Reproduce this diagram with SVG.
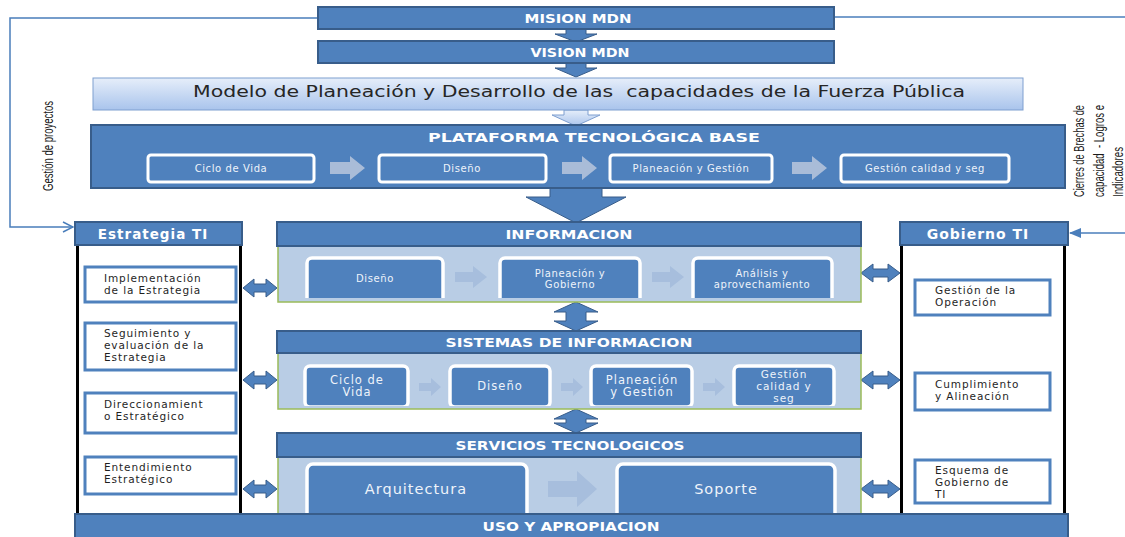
<svg xmlns="http://www.w3.org/2000/svg" width="1125" height="537" viewBox="0 0 1125 537">
<defs>
<style>
.hdr{fill:#4F81BD;stroke:#385D8A;stroke-width:2}
.ht{font-family:"DejaVu Sans",Verdana,sans-serif;font-weight:bold;fill:#fff;text-anchor:middle;font-size:12px}
.body{fill:#B9CDE5;stroke:#9BBB59;stroke-width:1.5}
.ib{fill:#4F81BD;stroke:#fff;stroke-width:3.5}
.pb{fill:#4F81BD;stroke:#fff;stroke-width:3}
.it{font-family:"DejaVu Sans",Verdana,sans-serif;fill:#EEF3FA;text-anchor:middle;font-size:10px;letter-spacing:0.6px}
.it2{font-size:11.5px;letter-spacing:1px}
.it4{font-size:10.5px;letter-spacing:0.9px}
.it3{font-size:14.5px;letter-spacing:1px}
.sb{fill:#fff;stroke:#4F81BD;stroke-width:3}
.st{font-family:"DejaVu Sans",Verdana,sans-serif;fill:#1F1F1F;font-size:10.5px;letter-spacing:0.9px}
.col{fill:#fff;stroke:none}
.edge{stroke:#000;stroke-width:3}
.arr{fill:#4F81BD;stroke:#385D8A;stroke-width:1}
.farr{fill:#A9BCD8;stroke:none}
.iarr{fill:#A7BEDD;stroke:none}
.line{fill:none;stroke:#4A7EBB;stroke-width:1.5}
.rot{font-family:"Liberation Sans Narrow","Liberation Sans",Arial,sans-serif;font-size:14px;fill:#1a1a1a}
</style>
<linearGradient id="gModel" x1="0" y1="0" x2="0" y2="1">
<stop offset="0" stop-color="#E6EEFA"/>
<stop offset="1" stop-color="#A9C4EC"/>
</linearGradient>
<marker id="mOpen" viewBox="0 0 12 12" refX="11" refY="6" markerWidth="12" markerHeight="12" markerUnits="userSpaceOnUse" orient="auto">
<path d="M1,1 L11,6 L1,11" fill="none" stroke="#4A7EBB" stroke-width="1.5"/>
</marker>
<marker id="mFill" viewBox="0 0 12 10" refX="11" refY="5" markerWidth="12" markerHeight="10" markerUnits="userSpaceOnUse" orient="auto">
<path d="M0,0 L12,5 L0,10 Z" fill="#4A7EBB"/>
</marker>
<clipPath id="cInfo"><rect x="278" y="246" width="583" height="52"/></clipPath>
<clipPath id="cSis"><rect x="278" y="354" width="583" height="52"/></clipPath>
<clipPath id="cServ"><rect x="278" y="458" width="583" height="55"/></clipPath>
</defs>

<rect width="1125" height="537" fill="#fff"/>

<g id="connectors">
<path class="line" d="M318,18 H10 V227 H73" marker-end="url(#mOpen)"/>
<path class="line" d="M834,17 H1127"/>
<path class="line" d="M1127,233 H1070" marker-end="url(#mFill)"/>
<path class="arr" d="M566,29 H586 V34 H597 L576,42 L555,34 H566 Z"/>
<path class="arr" d="M566,63 H586 V68 H597 L576,77 L555,68 H566 Z"/>
<path d="M564,110 H588 V115 H600 L576,126 L552,115 H564 Z" fill="url(#gModel)" stroke="#7E9FD0" stroke-width="1"/>
<path class="arr" d="M550,188 H602 V197 H626 L576,223 L526,197 H550 Z"/>
<path class="arr" d="M576,302 L598,312 L586,312 L586,321 L598,321 L576,331 L554,321 L566,321 L566,312 L554,312 Z"/>
<path class="arr" d="M576,409 L598,419 L586,419 L586,423 L598,423 L576,433 L554,423 L566,423 L566,419 L554,419 Z"/>
<path class="arr" d="M243,288 L254,279 V284 H266 V279 L277,288 L266,297 V292 H254 V297 Z"/>
<path class="arr" d="M243,380 L254,371 V376 H266 V371 L277,380 L266,389 V384 H254 V389 Z"/>
<path class="arr" d="M243,489 L254,480 V485 H266 V480 L277,489 L266,498 V493 H254 V498 Z"/>
<path class="arr" d="M861,273 L873,264 V269 H888 V264 L900,273 L888,282 V277 H873 V282 Z"/>
<path class="arr" d="M861,380 L873,371 V376 H888 V371 L900,380 L888,389 V384 H873 V389 Z"/>
<path class="arr" d="M861,489 L873,480 V485 H888 V480 L900,489 L888,498 V493 H873 V498 Z"/>
</g>

<g id="mision">
<rect class="hdr" x="318" y="7" width="516" height="22"/>
<text class="ht" x="578" y="22.5" font-size="13" textLength="107" lengthAdjust="spacingAndGlyphs">MISION MDN</text>
</g>
<g id="vision">
<rect class="hdr" x="318" y="41" width="516" height="22"/>
<text class="ht" x="580" y="56.5" font-size="13" textLength="99" lengthAdjust="spacingAndGlyphs">VISION MDN</text>
</g>
<g id="modelo">
<rect x="93" y="78" width="930" height="32" fill="url(#gModel)" stroke="#7E9FD0" stroke-width="1"/>
<text x="579" y="97" xml:space="preserve" font-family="'DejaVu Sans',Verdana,sans-serif" font-size="15.5" fill="#262626" text-anchor="middle" textLength="772" lengthAdjust="spacingAndGlyphs">Modelo de Planeación y Desarrollo de las  capacidades de la Fuerza Pública</text>
</g>

<g id="plataforma">
<rect class="hdr" x="91" y="125" width="974" height="63"/>
<text class="ht" x="594" y="141.5" font-size="12.5" textLength="332" lengthAdjust="spacingAndGlyphs">PLATAFORMA TECNOLÓGICA BASE</text>
<rect class="pb" x="148" y="155" width="166" height="27" rx="3"/>
<rect class="pb" x="379" y="155" width="167" height="27" rx="3"/>
<rect class="pb" x="610" y="155" width="162" height="27" rx="3"/>
<rect class="pb" x="841" y="155" width="168" height="27" rx="3"/>
<path class="farr" d="M330,162 H350 V156 L365,168 L350,180 V174 H330 Z"/>
<path class="farr" d="M562,162 H582 V156 L597,168 L582,180 V174 H562 Z"/>
<path class="farr" d="M792,162 H812 V156 L827,168 L812,180 V174 H792 Z"/>
<text class="it" x="231" y="171.5">Ciclo de Vida</text>
<text class="it" x="462" y="171.5">Diseño</text>
<text class="it" x="691" y="171.5">Planeación y Gestión</text>
<text class="it" x="925" y="171.5">Gestión calidad y seg</text>
</g>

<g id="estrategia">
<rect class="col" x="76" y="245" width="165" height="268"/>
<line class="edge" x1="77.5" y1="245" x2="77.5" y2="513"/>
<line class="edge" x1="240.5" y1="245" x2="240.5" y2="513"/>
<rect class="hdr" x="75" y="222" width="167" height="23"/>
<text class="ht" x="153" y="238.5" style="font-size:13.5px;letter-spacing:1px">Estrategia TI</text>
<rect class="sb" x="85" y="267" width="151" height="35"/>
<text class="st" x="104" y="282">Implementación</text>
<text class="st" x="104" y="294">de la Estrategia</text>
<rect class="sb" x="85" y="323" width="151" height="47"/>
<text class="st" x="104" y="337">Seguimiento y</text>
<text class="st" x="104" y="349">evaluación de la</text>
<text class="st" x="104" y="361">Estrategia</text>
<rect class="sb" x="85" y="393" width="151" height="40"/>
<text class="st" x="104" y="408">Direccionamient</text>
<text class="st" x="104" y="420">o Estratégico</text>
<rect class="sb" x="85" y="457" width="151" height="37"/>
<text class="st" x="104" y="471">Entendimiento</text>
<text class="st" x="104" y="483">Estratégico</text>
</g>

<g id="gobierno">
<rect class="col" x="900" y="245" width="166" height="268"/>
<line class="edge" x1="901.5" y1="245" x2="901.5" y2="513"/>
<line class="edge" x1="1064.5" y1="245" x2="1064.5" y2="513"/>
<rect class="hdr" x="900" y="222" width="168" height="23"/>
<text class="ht" x="978" y="238.5" style="font-size:14px;letter-spacing:1px">Gobierno TI</text>
<rect class="sb" x="915" y="280" width="135" height="35"/>
<text class="st" x="935" y="294">Gestión de la</text>
<text class="st" x="935" y="306">Operación</text>
<rect class="sb" x="915" y="373" width="135" height="37"/>
<text class="st" x="935" y="388">Cumplimiento</text>
<text class="st" x="935" y="400">y Alineación</text>
<rect class="sb" x="915" y="460" width="135" height="43"/>
<text class="st" x="935" y="474">Esquema de</text>
<text class="st" x="935" y="486">Gobierno de</text>
<text class="st" x="935" y="498">TI</text>
</g>

<g id="informacion">
<rect class="body" x="278" y="246" width="583" height="56"/>
<rect class="hdr" x="277" y="222" width="584" height="24"/>
<text class="ht" x="569" y="238.5" textLength="127" lengthAdjust="spacingAndGlyphs">INFORMACION</text>
<g clip-path="url(#cInfo)">
<rect class="ib" x="307" y="258" width="136" height="50" rx="5"/>
<rect class="ib" x="500" y="258" width="140" height="50" rx="5"/>
<rect class="ib" x="693" y="258" width="139" height="50" rx="5"/>
</g>
<path class="iarr" d="M455,272 H473 V266 L487,277 L473,288 V282 H455 Z"/>
<path class="iarr" d="M652,272 H670 V266 L684,277 L670,288 V282 H652 Z"/>
<text class="it" x="375" y="281.5">Diseño</text>
<text class="it" x="570" y="276.5">Planeación y</text>
<text class="it" x="570" y="287.5">Gobierno</text>
<text class="it" x="762" y="276.5">Análisis y</text>
<text class="it" x="762" y="287.5">aprovechamiento</text>
</g>

<g id="sistemas">
<rect class="body" x="278" y="353" width="583" height="56"/>
<rect class="hdr" x="277" y="331" width="584" height="22"/>
<text class="ht" x="569" y="346.5" textLength="247" lengthAdjust="spacingAndGlyphs">SISTEMAS DE INFORMACION</text>
<g clip-path="url(#cSis)">
<rect class="ib" x="305" y="366" width="103" height="41" rx="5"/>
<rect class="ib" x="450" y="366" width="100" height="41" rx="5"/>
<rect class="ib" x="591" y="366" width="101" height="41" rx="5"/>
<rect class="ib" x="734" y="366" width="100" height="41" rx="5"/>
</g>
<path class="iarr" d="M419,383 H431 V378 L441,387 L431,396 V391 H419 Z"/>
<path class="iarr" d="M561,383 H573 V378 L583,387 L573,396 V391 H561 Z"/>
<path class="iarr" d="M703,383 H715 V378 L725,387 L715,396 V391 H703 Z"/>
<text class="it it2" x="357" y="384">Ciclo de</text>
<text class="it it2" x="357" y="396">Vida</text>
<text class="it it2" x="500" y="390">Diseño</text>
<text class="it it2" x="642" y="384">Planeación</text>
<text class="it it2" x="642" y="396">y Gestión</text>
<text class="it it4" x="784" y="378">Gestión</text>
<text class="it it4" x="784" y="390">calidad y</text>
<text class="it it4" x="784" y="402">seg</text>
</g>

<g id="servicios">
<rect class="body" x="278" y="457" width="583" height="58"/>
<rect class="hdr" x="277" y="433" width="584" height="24"/>
<text class="ht" x="570" y="449.5" textLength="229" lengthAdjust="spacingAndGlyphs">SERVICIOS TECNOLOGICOS</text>
<g clip-path="url(#cServ)">
<rect class="ib" x="307" y="464" width="220" height="60" rx="6"/>
<rect class="ib" x="617" y="464" width="218" height="60" rx="6"/>
</g>
<path class="iarr" d="M548,481 H577 V471 L597,489 L577,507 V497 H548 Z"/>
<text class="it it3" x="416" y="494">Arquitectura</text>
<text class="it it3" x="726" y="494">Soporte</text>
</g>

<g id="uso">
<rect class="hdr" x="75" y="514" width="993" height="24"/>
<text class="ht" x="571" y="530.5" textLength="177" lengthAdjust="spacingAndGlyphs">USO Y APROPIACION</text>
</g>

<g id="label-gestion">
<text class="rot" transform="translate(53,191) rotate(-90)" textLength="90" lengthAdjust="spacingAndGlyphs">Gestión de proyectos</text>
</g>
<g id="label-cierres">
<text class="rot" transform="translate(1084,197) rotate(-90)" textLength="92" lengthAdjust="spacingAndGlyphs">Cierres de Brechas de</text>
<text class="rot" xml:space="preserve" transform="translate(1104,197) rotate(-90)" textLength="92" lengthAdjust="spacingAndGlyphs">capacidad  - Logros e</text>
<text class="rot" transform="translate(1123,197) rotate(-90)" textLength="50" lengthAdjust="spacingAndGlyphs">Indicadores</text>
</g>
</svg>
